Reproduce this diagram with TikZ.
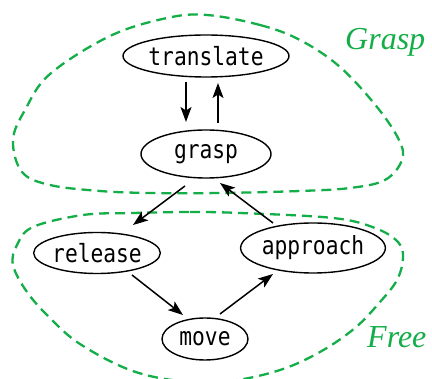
\documentclass[tikz,border=0pt]{standalone}
\usepackage{fontspec}
\setmainfont{Liberation Serif}
\newfontfamily\statefont[FakeStretch=0.85]{DejaVu Sans Mono}
\usetikzlibrary{shapes.geometric,arrows.meta,calc}
\definecolor{regiongreen}{RGB}{20,174,72}
\begin{document}
\begin{tikzpicture}[x=1pt,y=-1pt,
  state/.style={draw, ellipse, line width=1.4pt, inner sep=0pt,
    font=\statefont\fontsize{25}{25}\selectfont},
  arr/.style={line width=1.5pt, -{Stealth[length=15pt,width=11pt,inset=3.5pt]}},
  region/.style={draw=regiongreen, line width=2.3pt, dash pattern=on 10pt off 6pt},
  regionlabel/.style={text=regiongreen, anchor=base west, inner sep=0pt,
    font=\itshape\fontsize{32}{32}\selectfont}]
\useasboundingbox[fill=white] (0,0) rectangle (432,379);

% states
\node[state, minimum width=166pt, minimum height=42pt] (translate) at (206,56) {translate};
\node[state, minimum width=130pt, minimum height=48pt] (grasp) at (206,154) {grasp};
\node[state, minimum width=124pt, minimum height=41pt] (release) at (97,253) {release};
\node[state, minimum width=140pt, minimum height=50pt] (approach) at (313,248) {approach};
\node[state, minimum width=86pt, minimum height=42pt] (move) at (205,339) {move};

% region outlines
\draw[region] plot[smooth cycle, tension=0.6] coordinates {
  (207,15) (260,25) (300,40) (340,67) (377,107) (399,140) (402,160)
  (385,180) (350,188) (300,191) (220,193) (150,193) (100,191) (50,185)
  (22,172) (13,140) (25,110) (50,74) (110,36) (167,18)};
\draw[region] plot[smooth cycle, tension=0.6] coordinates {
  (133,213) (190,212) (240,213) (333,218) (375,228) (398,242) (403,258)
  (397,280) (380,302) (355,328) (320,352) (280,370) (230,381) (180,381)
  (130,370) (80,344) (50,318) (27,292) (13,265) (17,245) (33,227) (83,215)};

\node[regionlabel] (lgrasp) at (345,50) {Grasp};
\node[regionlabel] (lfree) at (367,348) {Free};

% transitions
\draw[arr] ($(translate.center)+(-20,26)$) -- ($(grasp.center)+(-20,-32)$);
\draw[arr] ($(grasp.center)+(12,-31)$) -- ($(translate.center)+(12,27)$);
\draw[arr] ($(grasp.center)+(-21,32)$) -- ($(release.center)+(36,-28)$);
\draw[arr] ($(approach.center)+(-40,-25)$) -- ($(grasp.center)+(14,29)$);
\draw[arr] ($(release.center)+(35,22)$) -- ($(move.center)+(-22,-24)$);
\draw[arr] ($(move.center)+(15,-25)$) -- ($(approach.center)+(-40,26)$);
\end{tikzpicture}
\end{document}
